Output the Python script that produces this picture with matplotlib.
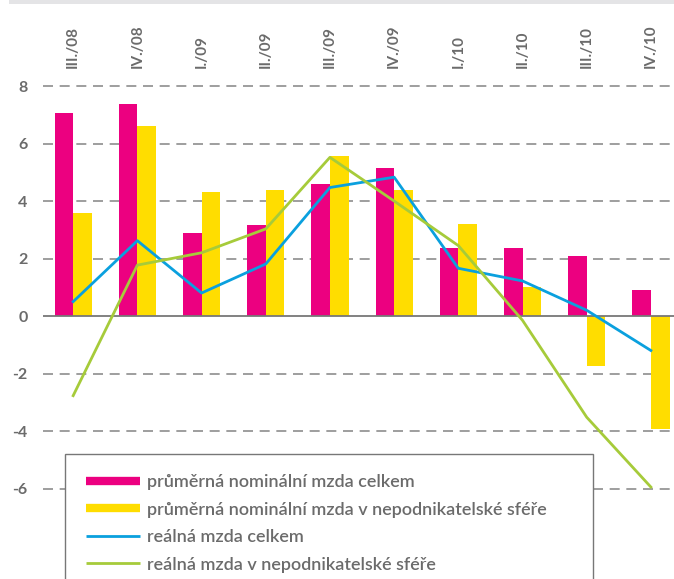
import matplotlib

matplotlib.use("Agg")
import matplotlib.pyplot as plt
import numpy as np
from matplotlib.lines import Line2D
from matplotlib.patches import Rectangle

# quarters and series (% y/y)
quarters = ["III./08", "IV./08", "I./09", "II./09", "III./09",
            "IV./09", "I./10", "II./10", "III./10", "IV./10"]
nominal_total = [7.05, 7.38, 2.9, 3.17, 4.6, 5.15, 2.38, 2.38, 2.1, 0.9]
nominal_public = [3.58, 6.6, 4.31, 4.38, 5.57, 4.38, 3.2, 1.0, -1.74, -3.93]
real_total = [0.5, 2.62, 0.8, 1.81, 4.47, 4.83, 1.66, 1.22, 0.2, -1.2]
real_public = [-2.77, 1.77, 2.2, 3.03, 5.52, 4.0, 2.45, -0.15, -3.52, -5.95]
yticks = [-6, -4, -2, 0, 2, 4, 6, 8]

labels = [
    "průměrná nominální mzda celkem",
    "průměrná nominální mzda v nepodnikatelské sféře",
    "reálná mzda celkem",
    "reálná mzda v nepodnikatelské sféře",
]

MAGENTA = "#EC0080"
YELLOW = "#FFDD00"
BLUE = "#0AA0DE"
GREEN = "#A6CB3A"
GREY_TXT = "#6b6b6b"

plt.rcParams["font.family"] = ["Lato", "DejaVu Sans"]

W, H = 674, 579
fig = plt.figure(figsize=(W / 100, H / 100), dpi=100)

# thin grey band at the very top
fig.patches.append(Rectangle((9 / W, 1 - 4 / H), 1, 4 / H, transform=fig.transFigure,
                             color="#e4e4e6", lw=0, zorder=0))

ax = fig.add_axes([43 / W, 0, 1 - 43 / W, (579 - 84.6) / H])
x = np.arange(len(quarters))
w = 0.29

ax.bar(x - w / 2, nominal_total, w, color=MAGENTA, zorder=2)
ax.bar(x + w / 2, nominal_public, w, color=YELLOW, zorder=2)
ax.plot(x, real_total, color=BLUE, lw=2.0, zorder=3)
ax.plot(x, real_public, color=GREEN, lw=2.0, zorder=3)

ax.set_xlim(-0.47, 9.36)
ax.set_ylim(-9.148, 8.05)

for v in yticks:
    if v == 0:
        ax.axhline(0, color="#777777", lw=1.3, zorder=2.5)
    else:
        ax.axhline(v, color="#8e8e8e", lw=1.2, ls=(0, (6, 4)), zorder=1)

ax.set_yticks(yticks)
ax.set_yticklabels([str(v) for v in yticks])
ax.set_xticks(x)
ax.set_xticklabels(quarters, rotation=90)
ax.xaxis.tick_top()
ax.tick_params(axis="x", length=0, pad=12, labelsize=11, labelcolor=GREY_TXT)
ax.tick_params(axis="y", length=0, pad=11, labelsize=11.5, labelcolor=GREY_TXT)
for t in ax.get_xticklabels():
    t.set_fontweight("bold")
    t.set_va("bottom")
for t in ax.get_yticklabels():
    t.set_fontweight("bold")
for s in ax.spines.values():
    s.set_visible(False)

# legend box, runs off the bottom of the figure
fig.patches.append(Rectangle((65 / W, -0.1), (593 - 65) / W, (579 - 454) / H + 0.1,
                             transform=fig.transFigure, facecolor="white",
                             edgecolor="#777777", lw=1.0, zorder=5))
handles = [
    Line2D([], [], color=MAGENTA, lw=6, solid_capstyle="butt"),
    Line2D([], [], color=YELLOW, lw=6, solid_capstyle="butt"),
    Line2D([], [], color=BLUE, lw=2.0, solid_capstyle="butt"),
    Line2D([], [], color=GREEN, lw=2.0, solid_capstyle="butt"),
]
leg = fig.legend(handles, labels, loc="upper left", bbox_to_anchor=(86 / W, 1 - 474 / H),
                 frameon=False, borderpad=0, borderaxespad=0, fontsize=13,
                 handlelength=3.0, handletextpad=0.4, labelspacing=0.64)
leg.set_zorder(6)
for t in leg.get_texts():
    t.set_color(GREY_TXT)
    t.set_fontweight("semibold")

fig.savefig("out.png", dpi=100)
